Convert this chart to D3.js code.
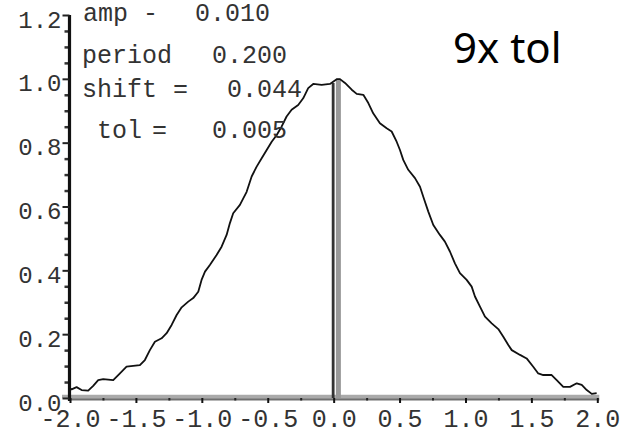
<script src="https://d3js.org/d3.v7.min.js"></script>
<html>
<head>
<style>
  body { margin: 0; background: #fff; }
</style>
</head>
<body>
<div id="myPlot"></div>
<script>
    const W = 627, H = 434;
    const mono = "'Liberation Mono', 'DejaVu Sans Mono', monospace";

    // curve
    const curveX = [-2.000,-1.988,-1.950,-1.912,-1.862,-1.824,-1.786,-1.748,-1.672,-1.621,-1.571,-1.470,-1.432,-1.394,-1.356,-1.305,-1.267,-1.229,-1.191,-1.153,-1.103,-1.065,-1.027,-1.002,-0.976,-0.939,-0.888,-0.850,-0.812,-0.787,-0.762,-0.711,-0.660,-0.622,-0.584,-0.546,-0.508,-0.470,-0.432,-0.395,-0.357,-0.319,-0.269,-0.231,-0.193,-0.155,-0.091,-0.028,0.023,0.048,0.086,0.137,0.175,0.225,0.263,0.300,0.351,0.402,0.440,0.478,0.503,0.528,0.566,0.617,0.655,0.685,0.718,0.756,0.806,0.844,0.882,0.920,0.958,1.009,1.047,1.072,1.110,1.148,1.199,1.249,1.287,1.325,1.351,1.414,1.464,1.514,1.552,1.590,1.654,1.692,1.742,1.793,1.844,1.882,1.920,1.958,1.995];
    const curveY = [0.030,0.027,0.034,0.025,0.023,0.038,0.056,0.059,0.056,0.077,0.098,0.103,0.119,0.150,0.176,0.187,0.203,0.229,0.260,0.284,0.302,0.313,0.333,0.370,0.396,0.417,0.448,0.474,0.511,0.548,0.579,0.605,0.646,0.694,0.725,0.751,0.777,0.803,0.824,0.850,0.882,0.903,0.918,0.939,0.971,0.984,0.981,0.984,0.999,0.999,0.987,0.966,0.953,0.950,0.924,0.892,0.861,0.845,0.835,0.803,0.777,0.746,0.715,0.689,0.662,0.624,0.584,0.542,0.511,0.490,0.459,0.422,0.391,0.370,0.349,0.318,0.286,0.255,0.234,0.216,0.192,0.166,0.150,0.135,0.124,0.098,0.077,0.072,0.072,0.056,0.035,0.035,0.046,0.041,0.025,0.013,0.015];

    const xTicks = [-2, -1.5, -1, -0.5, 0, 0.5, 1, 1.5, 2];
    const xTickLabels = ["-2.0", "-1.5", "-1.0", "-0.5", "0.0", "0.5", "1.0", "1.5", "2.0"];
    const xMinor = [-1.75, -1.25, -0.75, -0.25, 0.25, 0.75, 1.25, 1.75];
    const yTicks = [0, 0.2, 0.4, 0.6, 0.8, 1.0, 1.2];
    const yTickLabels = ["0.0", "0.2", "0.4", "0.6", "0.8", "1.0", "1.2"];

    // the two vertical markers: zero line and shifted line
    const markerX = [0, 0.036];
    const markerTop = [0.987, 1.0];

    const paramNames = ["amp", "period", "shift", "tol"];
    const paramSigns = ["-", "", "=", "="];
    const paramValues = ["0.010", "0.200", "0.044", "0.005"];

    const x = d3.scaleLinear().domain([-2, 2]).range([70, 597.3]);
    const y = d3.scaleLinear().domain([0, 1.2]).range([398, 15]);

    const svg = d3.select("#myPlot").append("svg")
        .attr("width", W).attr("height", H)
        .attr("viewBox", `0 0 ${W} ${H}`);
    svg.append("rect").attr("width", W).attr("height", H).attr("fill", "#fff");

    // horizontal axis (grey double band)
    svg.append("line")
        .attr("x1", x(-2) - 8).attr("x2", x(2) + 2)
        .attr("y1", y(0) - 1.5).attr("y2", y(0) - 1.5)
        .attr("stroke", "#aaa").attr("stroke-width", 3.3);
    svg.append("line")
        .attr("x1", x(-2)).attr("x2", x(2) + 2)
        .attr("y1", y(0) + 1.4).attr("y2", y(0) + 1.4)
        .attr("stroke", "#707070").attr("stroke-width", 2.4);

    const xAxis = d3.axisBottom(x).tickValues(xTicks).tickSize(5).tickFormat((d, i) => xTickLabels[i]);
    const gx = svg.append("g").attr("transform", `translate(0,${y(0)})`).call(xAxis);
    gx.select(".domain").remove();
    gx.selectAll(".tick line").attr("stroke", "#111").attr("stroke-width", 2);
    gx.selectAll(".tick text")
        .attr("y", 29).attr("dy", 0)
        .attr("fill", "#333").attr("font-size", 25)
        .style("font-family", mono);

    const gxm = svg.append("g").attr("transform", `translate(0,${y(0)})`)
        .call(d3.axisBottom(x).tickValues(xMinor).tickSize(2.5).tickFormat(""));
    gxm.select(".domain").remove();
    gxm.selectAll(".tick line").attr("stroke", "#222").attr("stroke-width", 2);

    // vertical axis
    const yMinor = d3.range(0, 1.2001, 0.05).filter(v => Math.abs(v * 5 - Math.round(v * 5)) > 1e-6);
    const gym = svg.append("g").attr("transform", `translate(${x(-2) - 0.5},0)`)
        .call(d3.axisLeft(y).tickValues(yMinor).tickSize(5).tickFormat(""));
    gym.select(".domain").remove();
    gym.selectAll(".tick line").attr("stroke", "#333").attr("stroke-width", 2.5);

    const yAxis = d3.axisLeft(y).tickValues(yTicks).tickSize(7).tickFormat((d, i) => yTickLabels[i]);
    const gy = svg.append("g").attr("transform", `translate(${x(-2) - 0.5},0)`).call(yAxis);
    gy.select(".domain").attr("stroke", "#111").attr("stroke-width", 3.2)
        .attr("d", `M0,${y(1.2)}V${y(0) + 3}`);
    gy.selectAll(".tick line").attr("stroke", "#222").attr("stroke-width", 2);
    gy.selectAll(".tick text")
        .attr("x", -8).attr("dy", 12)
        .attr("fill", "#333").attr("font-size", 24)
        .style("font-family", mono);

    // vertical markers
    svg.append("line")
        .attr("x1", x(markerX[1])).attr("x2", x(markerX[1]))
        .attr("y1", y(0)).attr("y2", y(markerTop[1]))
        .attr("stroke", "#999").attr("stroke-width", 5);
    svg.append("line")
        .attr("x1", x(markerX[0]) - 0.5).attr("x2", x(markerX[0]) - 0.5)
        .attr("y1", y(0)).attr("y2", y(markerTop[0]))
        .attr("stroke", "#333").attr("stroke-width", 2.8);

    // curve
    const pts = curveX.map((v, i) => [v, curveY[i]]);
    svg.append("path")
        .datum(pts)
        .attr("fill", "none")
        .attr("stroke", "#111")
        .attr("stroke-width", 1.8)
        .attr("stroke-linejoin", "round")
        .attr("d", d3.line().x(d => x(d[0])).y(d => y(d[1])));

    // parameter text block
    const nameX = [83, 82, 82, 97];
    const signX = [143, 0, 173, 152];
    const valX = [195, 212, 227, 212];
    const rowY = [21, 63, 97, 138];
    const pg = svg.append("g").attr("fill", "#333").attr("font-size", 25).style("font-family", mono);
    paramNames.forEach((n, i) => {
        pg.append("text").attr("x", nameX[i]).attr("y", rowY[i]).text(n);
        if (paramSigns[i]) pg.append("text").attr("x", signX[i]).attr("y", rowY[i]).text(paramSigns[i]);
        pg.append("text").attr("x", valX[i]).attr("y", rowY[i]).text(paramValues[i]);
    });

    svg.append("text")
        .attr("x", 453).attr("y", 63)
        .style("font-family", "'Noto Sans', 'Open Sans', sans-serif")
        .attr("font-size", 42)
        .attr("fill", "#000")
        .text("9x tol");
</script>
</body>
</html>
